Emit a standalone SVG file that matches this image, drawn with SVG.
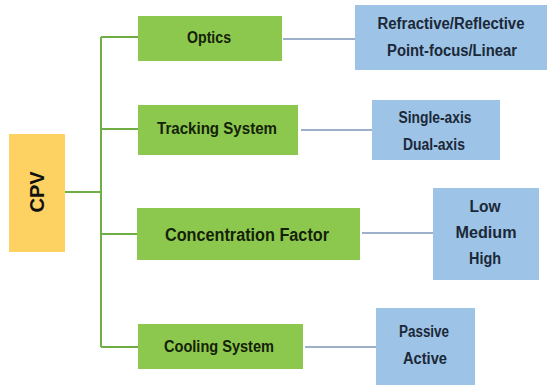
<svg xmlns="http://www.w3.org/2000/svg" width="551" height="385" viewBox="0 0 551 385">
  <style>
    .root { fill: #FDD262; }
    .cat { fill: #8DC84E; }
    .opt { fill: #9DC3E6; }
    .tree { stroke: #6FAE45; stroke-width: 2; fill: none; }
    .link { stroke: #7F96B6; stroke-width: 1.5; fill: none; }
    text { font-family: "Liberation Sans", Arial, sans-serif; font-weight: bold; text-anchor: middle; }
    .catText { fill: #142209; font-size: 16px; }
    .optText { fill: #1B2838; font-size: 16px; }
    .rootText { fill: #111111; font-size: 20px; }
  </style>
  <rect width="551" height="385" fill="#ffffff"/>

  <!-- connectors -->
  <g id="connectors">
    <path class="tree" d="M65 192 H101 M101 37 V347 M101 37 H138 M101 129 H138 M101 234 H138 M101 347 H138"/>
    <path class="link" d="M283 39 H355 M301 130 H372 M362 233 H433 M305 347 H376"/>
  </g>

  <!-- root -->
  <g id="cpv">
    <rect class="root" x="9" y="134" width="56" height="118"/>
    <text class="rootText" transform="translate(44 192) rotate(-90)">CPV</text>
  </g>

  <!-- categories -->
  <g id="optics">
    <rect class="cat" x="138" y="16" width="144" height="45"/>
    <text class="catText" x="209" y="43" textLength="44" lengthAdjust="spacingAndGlyphs">Optics</text>
  </g>
  <g id="tracking">
    <rect class="cat" x="138" y="105" width="160" height="50"/>
    <text class="catText" x="217" y="134" textLength="120" lengthAdjust="spacingAndGlyphs">Tracking  System</text>
  </g>
  <g id="concentration">
    <rect class="cat" x="137" y="208" width="223" height="52"/>
    <text class="catText" x="247" y="241" style="font-size:18px" textLength="164" lengthAdjust="spacingAndGlyphs">Concentration Factor</text>
  </g>
  <g id="cooling">
    <rect class="cat" x="138" y="324" width="165" height="45"/>
    <text class="catText" x="219" y="352" textLength="110" lengthAdjust="spacingAndGlyphs">Cooling System</text>
  </g>

  <!-- options -->
  <g id="optics-options">
    <rect class="opt" x="355" y="5" width="192" height="65"/>
    <text class="optText" x="451" y="29" textLength="147" lengthAdjust="spacingAndGlyphs">Refractive/Reflective</text>
    <text class="optText" x="452" y="56" textLength="130" lengthAdjust="spacingAndGlyphs">Point-focus/Linear</text>
  </g>
  <g id="tracking-options">
    <rect class="opt" x="372" y="100" width="128" height="60"/>
    <text class="optText" x="435" y="123" textLength="73" lengthAdjust="spacingAndGlyphs">Single-axis</text>
    <text class="optText" x="434" y="150" textLength="62" lengthAdjust="spacingAndGlyphs">Dual-axis</text>
  </g>
  <g id="concentration-options">
    <rect class="opt" x="433" y="188" width="106" height="92"/>
    <text class="optText" x="485" y="212" textLength="31" lengthAdjust="spacingAndGlyphs">Low</text>
    <text class="optText" x="486" y="238" textLength="61" lengthAdjust="spacingAndGlyphs">Medium</text>
    <text class="optText" x="485" y="264" textLength="32" lengthAdjust="spacingAndGlyphs">High</text>
  </g>
  <g id="cooling-options">
    <rect class="opt" x="376" y="308" width="99" height="77"/>
    <text class="optText" x="424" y="337" textLength="50" lengthAdjust="spacingAndGlyphs">Passive</text>
    <text class="optText" x="425" y="364" textLength="44" lengthAdjust="spacingAndGlyphs">Active</text>
  </g>
</svg>
